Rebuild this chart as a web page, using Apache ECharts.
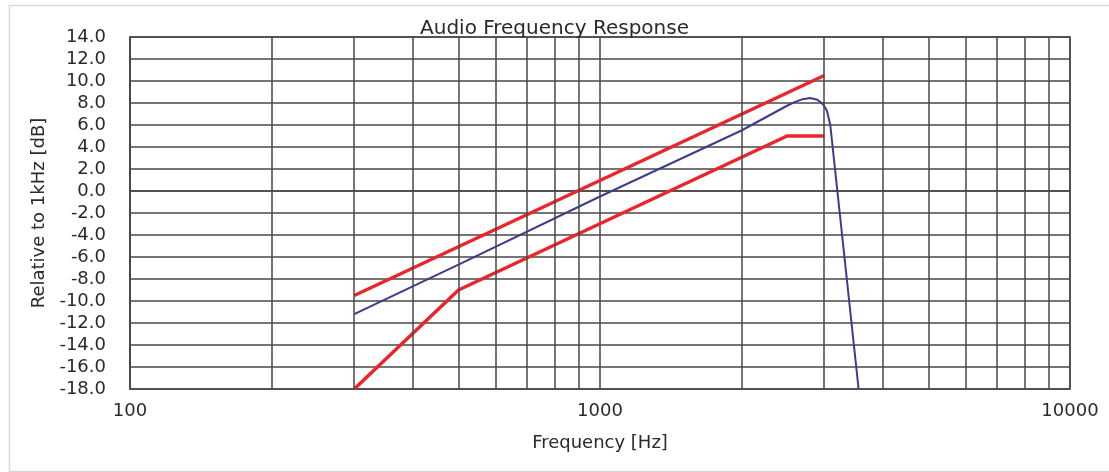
<!DOCTYPE html>
<html>
<head>
<meta charset="utf-8">
<script src="https://cdn.jsdelivr.net/npm/echarts@6/dist/echarts.min.js"></script>
<style>
html,body{margin:0;padding:0;background:#fff;}
#chart{width:1109px;height:472px;}
</style>
</head>
<body>
<div id="chart"></div>
<script>
// Frequencies (Hz) and responses (dB)
const upperLimitFreq = [300, 3000];
const upperLimitDb   = [-9.5, 10.5];

const lowerLimitFreq = [300, 500, 2500, 3000];
const lowerLimitDb   = [-18.0, -9.0, 5.0, 5.0];

const responseFreq = [300, 500, 1000, 2000, 2500, 2600, 2700, 2800, 2900, 2980, 3040, 3090, 3550];
const responseDb   = [-11.2, -6.7, -0.5, 5.5, 7.75, 8.1, 8.35, 8.45, 8.3, 7.9, 7.3, 6.0, -18.0];

const minorFreqs = [200, 300, 400, 500, 600, 700, 800, 900, 2000, 3000, 4000, 5000, 6000, 7000, 8000, 9000];

const titleText = 'Audio Frequency Response';
const xName = 'Frequency [Hz]';
const yName = 'Relative to 1kHz [dB]';

const zip = (a, b) => a.map((v, i) => [v, b[i]]);
const FONT = 'DejaVu Sans';
const TXT = '#2a2a2a';
const GRID = '#474747';

const chart = echarts.init(document.getElementById('chart'));
chart.setOption({
  animation: false,
  backgroundColor: '#fff',
  graphic: [{
    type: 'rect', left: 7, top: 3, silent: true,
    shape: { width: 1120, height: 466 },
    style: { fill: 'none', stroke: '#d9d9d9', lineWidth: 1.5 }
  }],
  title: {
    text: titleText, left: 'center', top: 14,
    textStyle: { fontFamily: FONT, fontSize: 20, fontWeight: 'normal', color: TXT }
  },
  grid: { left: 130, right: 39, top: 37, bottom: 83, show: true, borderColor: GRID, borderWidth: 1.5, backgroundColor: '#fff' },
  xAxis: {
    type: 'log', logBase: 10, min: 100, max: 10000,
    name: xName, nameLocation: 'middle', nameGap: 45,
    nameTextStyle: { fontFamily: FONT, fontSize: 18, color: TXT },
    axisLine: { show: true, lineStyle: { color: GRID, width: 1.5 } },
    axisTick: { show: false },
    axisLabel: { fontFamily: FONT, fontSize: 18, color: TXT, margin: 13, formatter: v => String(Math.round(v)) },
    splitLine: { show: true, lineStyle: { color: GRID, width: 1.5 } }
  },
  yAxis: {
    type: 'value', min: -18, max: 14, interval: 2,
    name: yName, nameLocation: 'middle', nameGap: 71, nameRotate: 90,
    nameTextStyle: { fontFamily: FONT, fontSize: 18, color: TXT },
    axisLine: { show: true, lineStyle: { color: GRID, width: 1.5 } },
    axisTick: { show: false },
    axisLabel: { fontFamily: FONT, fontSize: 18, color: TXT, margin: 24, formatter: v => v.toFixed(1) },
    splitLine: { show: true, lineStyle: { color: GRID, width: 1.5 } }
  },
  series: [
    {
      name: 'minorGrid', type: 'line', data: [], silent: true, z: 1,
      markLine: {
        silent: true, symbol: ['none', 'none'], label: { show: false },
        lineStyle: { color: GRID, width: 1.5, type: 'solid' },
        data: minorFreqs.map(f => ({ xAxis: f }))
      }
    },
    {
      name: 'Upper limit', type: 'line', data: zip(upperLimitFreq, upperLimitDb),
      showSymbol: false, z: 3, lineStyle: { color: '#e8262b', width: 3.5 }
    },
    {
      name: 'Lower limit', type: 'line', data: zip(lowerLimitFreq, lowerLimitDb),
      showSymbol: false, z: 3, lineStyle: { color: '#e8262b', width: 3.5 }
    },
    {
      name: 'Response', type: 'line', data: zip(responseFreq, responseDb),
      showSymbol: false, z: 4, lineStyle: { color: '#3c3c8e', width: 2 }
    }
  ]
});
</script>
</body>
</html>
